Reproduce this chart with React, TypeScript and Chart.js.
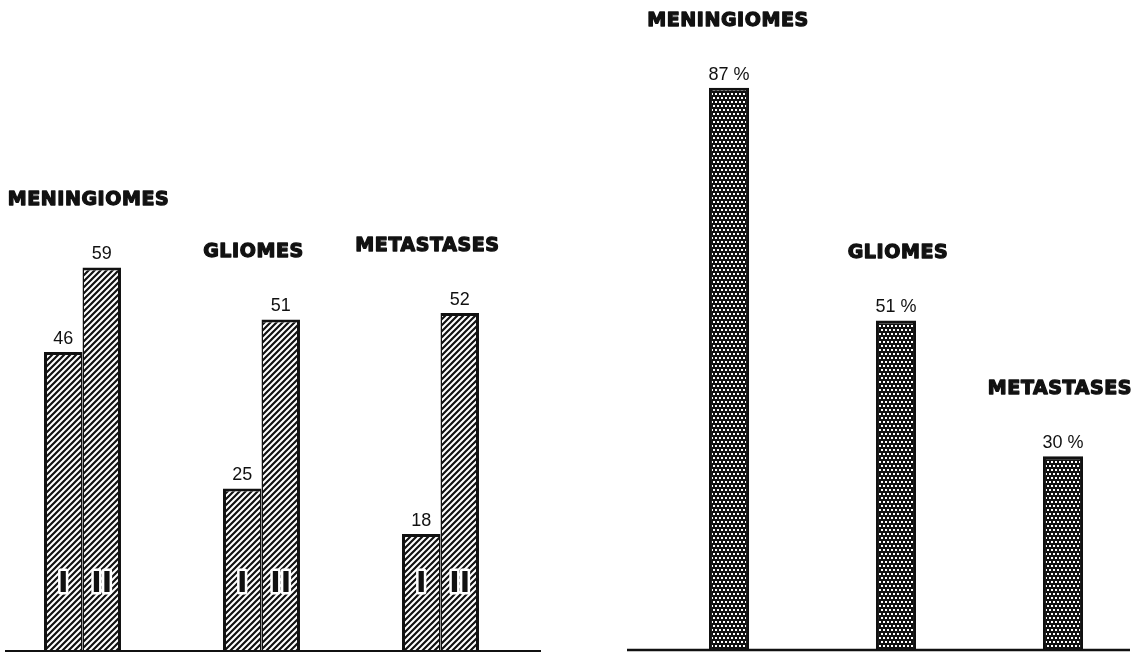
import React, { useEffect, useRef } from "react";
import { Chart, registerables } from "chart.js";

Chart.register(...registerables);

// ---- data ----
const CATEGORIES = ["MENINGIOMES", "GLIOMES", "METASTASES"];
const SERIES_NAMES = ["I", "II"];
const SERIES_I = [46, 25, 18];
const SERIES_II = [59, 51, 52];
const PERCENT = [87, 51, 30];

// ---- layout tweaks (pixel nudges of category titles) ----
const LEFT_TITLE_SHIFT = [6, -8, -13];
const RIGHT_TITLE_SHIFT = [-1, 2, -3];

const INK = "#111";
const VALUE_FONT = '18px "Liberation Sans", Arial, sans-serif';
const CAT_FONT = 'bold 19px "DejaVu Sans", sans-serif';

function hatchPattern(): CanvasPattern | string {
  const s = 6;
  const c = document.createElement("canvas");
  c.width = s;
  c.height = s;
  const g = c.getContext("2d");
  if (!g) return "#888";
  g.fillStyle = "#fff";
  g.fillRect(0, 0, s, s);
  g.strokeStyle = INK;
  g.lineWidth = 2.2;
  g.beginPath();
  g.moveTo(-1, s + 1);
  g.lineTo(s + 1, -1);
  g.moveTo(-2, 2);
  g.lineTo(2, -2);
  g.moveTo(s - 2, s + 2);
  g.lineTo(s + 2, s - 2);
  g.stroke();
  return g.createPattern(c, "repeat") || "#888";
}

function dotPattern(): CanvasPattern | string {
  const c = document.createElement("canvas");
  c.width = 8;
  c.height = 8;
  const g = c.getContext("2d");
  if (!g) return "#333";
  g.fillStyle = INK;
  g.fillRect(0, 0, 8, 8);
  g.fillStyle = "#fff";
  g.fillRect(1, 1, 2, 2);
  g.fillRect(5, 1, 2, 2);
  g.fillRect(3, 5, 2, 2);
  g.fillRect(7, 5, 1, 2);
  g.fillRect(0, 5, 1, 2);
  return g.createPattern(c, "repeat") || "#333";
}

function baselinePlugin(x1: number, x2: number, width: number) {
  return {
    id: "baseline",
    afterDraw(chart: any) {
      const ctx = chart.ctx;
      const y = chart.scales.y.getPixelForValue(0);
      ctx.save();
      ctx.strokeStyle = INK;
      ctx.lineWidth = width;
      ctx.beginPath();
      ctx.moveTo(x1, y);
      ctx.lineTo(x2, y);
      ctx.stroke();
      ctx.restore();
    },
  };
}

function labelsPlugin(suffix: string, withSeriesNames: boolean, shifts: number[]) {
  return {
    id: "labels",
    afterDatasetsDraw(chart: any) {
      const ctx = chart.ctx;
      ctx.save();
      ctx.fillStyle = INK;
      ctx.textAlign = "center";
      const metas = chart.data.datasets.map((_: any, di: number) => chart.getDatasetMeta(di));
      // value labels
      ctx.font = VALUE_FONT;
      ctx.textBaseline = "alphabetic";
      chart.data.datasets.forEach((ds: any, di: number) => {
        metas[di].data.forEach((bar: any, i: number) => {
          ctx.fillText(String(ds.data[i]) + suffix, bar.x, bar.y - 8);
        });
      });
      // category labels (heavy display type)
      ctx.font = CAT_FONT;
      try {
        (ctx as any).letterSpacing = "0.6px";
      } catch (e) {
        /* ignore */
      }
      ctx.textBaseline = "middle";
      ctx.strokeStyle = INK;
      ctx.lineWidth = 1.3;
      ctx.lineJoin = "round";
      const labels = chart.data.labels as string[];
      labels.forEach((lab, i) => {
        let top = Infinity;
        let sx = 0;
        metas.forEach((m: any) => {
          top = Math.min(top, m.data[i].y);
          sx += m.data[i].x;
        });
        const x = sx / metas.length + (shifts[i] || 0);
        ctx.strokeText(lab, x, top - 67);
        ctx.fillText(lab, x, top - 67);
      });
      try {
        (ctx as any).letterSpacing = "0px";
      } catch (e) {
        /* ignore */
      }
      // series numerals inside bars
      if (withSeriesNames) {
        const y0 = chart.scales.y.getPixelForValue(0);
        ctx.font = 'bold 28px "DejaVu Sans", sans-serif';
        ctx.textBaseline = "middle";
        ctx.lineJoin = "round";
        metas.forEach((m: any, di: number) => {
          m.data.forEach((bar: any) => {
            ctx.strokeStyle = "#fff";
            ctx.lineWidth = 5;
            ctx.strokeText(SERIES_NAMES[di], bar.x, y0 - 66);
            ctx.fillText(SERIES_NAMES[di], bar.x, y0 - 66);
          });
        });
      }
      ctx.restore();
    },
  };
}

export default function App() {
  const leftRef = useRef<HTMLCanvasElement>(null);
  const rightRef = useRef<HTMLCanvasElement>(null);

  useEffect(() => {
    if (!leftRef.current || !rightRef.current) return;
    const hatch = hatchPattern();
    const dots = dotPattern();

    const left = new Chart(leftRef.current, {
      type: "bar",
      data: {
        labels: CATEGORIES,
        datasets: [SERIES_I, SERIES_II].map((d, i) => ({
          label: SERIES_NAMES[i],
          data: d,
          backgroundColor: hatch as any,
          borderColor: INK,
          borderWidth:
            i === 0
              ? { top: 3, left: 3, right: 1.5, bottom: 0 }
              : { top: 3, left: 1.5, right: 3, bottom: 0 },
          borderSkipped: false as const,
          barPercentage: 1,
          categoryPercentage: 0.43,
        })),
      },
      options: {
        animation: false,
        responsive: false,
        events: [],
        layout: { padding: { left: 0, right: 30, top: 0, bottom: 4 } },
        plugins: { legend: { display: false }, tooltip: { enabled: false } },
        scales: {
          x: { display: false, offset: true },
          y: { display: false, min: 0, max: 100.15 },
        },
      },
      plugins: [baselinePlugin(12, 548, 2), labelsPlugin("", true, LEFT_TITLE_SHIFT)],
    });

    const right = new Chart(rightRef.current, {
      type: "bar",
      data: {
        labels: CATEGORIES,
        datasets: [
          {
            label: "%",
            data: PERCENT,
            backgroundColor: dots as any,
            borderColor: INK,
            borderWidth: 3,
            borderSkipped: "start" as const,
            barPercentage: 1,
            categoryPercentage: 0.24,
          },
        ],
      },
      options: {
        animation: false,
        responsive: false,
        events: [],
        layout: { padding: { left: 45.5, right: 13.5, top: 0, bottom: 5 } },
        plugins: { legend: { display: false }, tooltip: { enabled: false } },
        scales: {
          x: { display: false, offset: true },
          y: { display: false, min: 0, max: 100.6 },
        },
      },
      plugins: [baselinePlugin(27, 530, 2.5), labelsPlugin(" %", false, RIGHT_TITLE_SHIFT)],
    });

    return () => {
      left.destroy();
      right.destroy();
    };
  }, []);

  return (
    <div
      style={{
        position: "fixed",
        left: 0,
        top: 0,
        width: 1135,
        height: 655,
        overflow: "hidden",
        background: "#fff",
      }}
    >
      <canvas
        ref={leftRef}
        width={567}
        height={655}
        style={{ position: "absolute", left: -7, top: 0, display: "block" }}
      />
      <canvas
        ref={rightRef}
        width={560}
        height={655}
        style={{ position: "absolute", left: 600, top: 0, display: "block" }}
      />
    </div>
  );
}
